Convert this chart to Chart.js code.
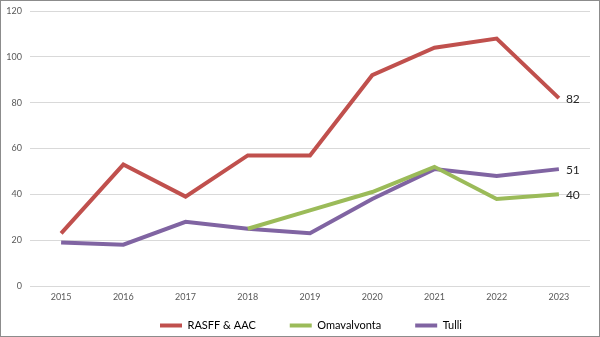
<!DOCTYPE html>
<html>
<head>
<meta charset="utf-8">
<script src="https://cdn.jsdelivr.net/npm/chart.js@4/dist/chart.umd.min.js"></script>
<style>
    html, body { margin: 0; padding: 0; background: #ffffff; }
    #wrap {
        width: 600px;
        height: 337px;
        box-sizing: border-box;
        border: 1px solid #8c8c8c;
        position: relative;
    }
</style>
</head>
<body>
<div id="wrap"><canvas id="lineChart" width="598" height="335"></canvas></div>
<script>
// ==================== DATA ====================
const years = ['2015', '2016', '2017', '2018', '2019', '2020', '2021', '2022', '2023'];
const rasffValues = [23, 53, 39, 57, 57, 92, 104, 108, 82];
const omavalvontaValues = [null, null, null, 25, 33, 41, 52, 38, 40];
const tulliValues = [19, 18, 28, 25, 23, 38, 51, 48, 51];
const yTicks = [0, 20, 40, 60, 80, 100, 120];

const seriesNames = ['RASFF & AAC', 'Omavalvonta', 'Tulli'];
const seriesColors = ['#c0504d', '#9bbb59', '#8064a2'];

Chart.defaults.font.family = 'Lato, "Open Sans", sans-serif';

// ==================== END LABELS ====================
// writes the last value of each series just right of its final point
const endLabels = {
    id: 'endLabels',
    afterDatasetsDraw(chart) {
        const ctx = chart.ctx;
        ctx.save();
        ctx.font = '12px Lato, "Open Sans", sans-serif';
        ctx.fillStyle = '#262626';
        ctx.textAlign = 'left';
        ctx.textBaseline = 'middle';
        chart.data.datasets.forEach((ds, i) => {
            const meta = chart.getDatasetMeta(i);
            const last = meta.data[meta.data.length - 1];
            const value = ds.data[ds.data.length - 1];
            if (last && value !== null) {
                ctx.fillText(String(value), last.x + 7, last.y + 1);
            }
        });
        ctx.restore();
    }
};

// legend padding also pads the top of the box, so stretch the box upwards
// and nudge it right (chart.js counts trailing padding when centering)
const legendLift = {
    id: 'legendLift',
    afterLayout(chart) {
        const legend = chart.legend;
        if (legend) {
            legend.top -= 20;
            legend.left += 15;
            legend.right += 15;
        }
    }
};

// ==================== CHART ====================
const ctx = document.getElementById('lineChart').getContext('2d');
const lineChart = new Chart(ctx, {
    type: 'line',
    data: {
        labels: years,
        datasets: [
            {
                label: seriesNames[0],
                data: rasffValues,
                borderColor: seriesColors[0],
                backgroundColor: seriesColors[0],
                borderWidth: 4,
                pointRadius: 0,
                tension: 0
            },
            {
                label: seriesNames[1],
                data: omavalvontaValues,
                borderColor: seriesColors[1],
                backgroundColor: seriesColors[1],
                borderWidth: 4,
                pointRadius: 0,
                tension: 0
            },
            {
                label: seriesNames[2],
                data: tulliValues,
                borderColor: seriesColors[2],
                backgroundColor: seriesColors[2],
                borderWidth: 4,
                pointRadius: 0,
                tension: 0
            }
        ]
    },
    options: {
        responsive: false,
        animation: false,
        layout: { padding: { top: 10, right: 9, left: 1, bottom: 0 } },
        plugins: {
            tooltip: { enabled: false },
            legend: {
                position: 'bottom',
                maxHeight: 30,
                labels: {
                    color: '#595959',
                    font: { size: 11 },
                    boxWidth: 22,
                    boxHeight: 4,
                    padding: 34,
                    generateLabels: function(chart) {
                        return chart.data.datasets.map((ds, i) => ({
                            text: ds.label,
                            fillStyle: ds.borderColor,
                            strokeStyle: ds.borderColor,
                            lineWidth: 0,
                            hidden: false,
                            datasetIndex: i
                        }));
                    }
                }
            }
        },
        scales: {
            y: {
                min: 0,
                max: 120,
                afterBuildTicks: function(scale) {
                    scale.ticks = yTicks.map(v => ({ value: v }));
                },
                afterFit: function(scale) {
                    scale.width = 28;
                    scale.paddingTop = 0;
                    scale.paddingBottom = 0;
                },
                grid: { color: '#d9d9d9', drawTicks: false, lineWidth: 1 },
                border: { display: false },
                ticks: {
                    color: '#595959',
                    font: { size: 9 },
                    padding: 8
                }
            },
            x: {
                offset: true,
                afterFit: function(scale) { scale.height = 20; },
                grid: { display: false, drawTicks: false },
                border: { display: false },
                ticks: {
                    color: '#595959',
                    font: { size: 9 },
                    padding: 6,
                    maxRotation: 0
                }
            }
        }
    },
    plugins: [endLabels, legendLift]
});
</script>
</body>
</html>
